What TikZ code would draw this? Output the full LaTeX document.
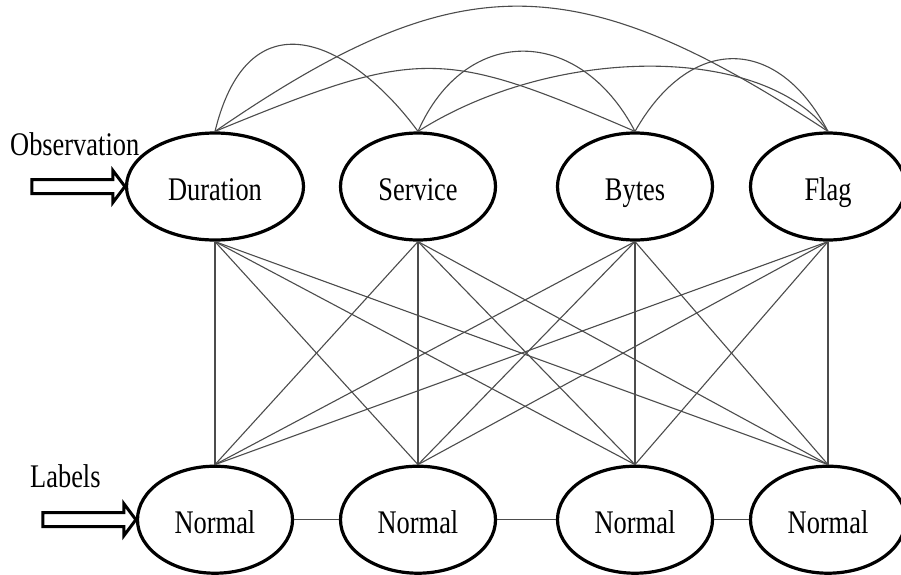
\documentclass[tikz,border=0pt]{standalone}
\usepackage{fontspec}
\setmainfont{Liberation Serif}[FakeStretch=0.8]
\usepackage{tikz}
\usetikzlibrary{positioning,shapes.geometric}

\begin{document}
\begin{tikzpicture}[
        x=1pt,y=-1pt,
        font=\fontsize{33pt}{36pt}\selectfont,
        node distance=223pt,
        var/.style={ellipse,draw,line width=3.2pt,minimum width=155pt,minimum height=107pt,inner sep=0pt,text height=27pt,text depth=0pt},
        link/.style={line width=1.1pt,black!70},
        inarrow/.style={line width=3pt,fill=white,line join=miter},
        tag/.style={anchor=base west,inner sep=0pt}
    ]
        \useasboundingbox[fill=white] (0,0) rectangle (901,574);

        \node[var,minimum width=177pt] (dur) at (215,186.5) {Duration};
        \node[var] (svc) at (418,186.5) {Service};
        \node[var] (byt) at (635,186.5) {Bytes};
        \node[var] (flg) at (828,186.5) {Flag};

        \node[var,below=of dur] (n1) {Normal};
        \node[var,below=of svc] (n2) {Normal};
        \node[var,below=of byt] (n3) {Normal};
        \node[var,below=of flg] (n4) {Normal};

        \node[tag] (obs) at (10,155) {Observation};
        \node[tag] (lab) at (30,487) {Labels};

        \foreach \t in {dur,svc,byt,flg}
            \foreach \b in {n1,n2,n3,n4}
                \draw[link] (\t.south) -- (\b.north);

        \draw[link] (n1.east) -- (n2.west);
        \draw[link] (n2.east) -- (n3.west);
        \draw[link] (n3.east) -- (n4.west);

        \draw[link] (dur.north) .. controls +(35,-143) and +(-63,-86) .. (svc.north);
        \draw[link] (dur.north) .. controls +(243,-167) and +(-254,-167) .. (flg.north);
        \draw[link] (dur.north) .. controls +(205,-84) and +(-195,-84) .. (byt.north);
        \draw[link] (svc.north) .. controls +(47,-107) and +(-56,-107) .. (byt.north);
        \draw[link] (svc.north) .. controls +(137,-87) and +(-65,-87) .. (flg.north);
        \draw[link] (byt.north) .. controls +(55,-97) and +(-51,-97) .. (flg.north);

        \draw[inarrow] (dur.west) -- ++(-12,-16) -- ++(0,9) -- ++(-81,0) -- ++(0,14) -- ++(81,0) -- ++(0,9) -- cycle;
        \draw[inarrow] (n1.west) -- ++(-12,-16) -- ++(0,9) -- ++(-81,0) -- ++(0,14) -- ++(81,0) -- ++(0,9) -- cycle;
    \end{tikzpicture}
\end{document}
